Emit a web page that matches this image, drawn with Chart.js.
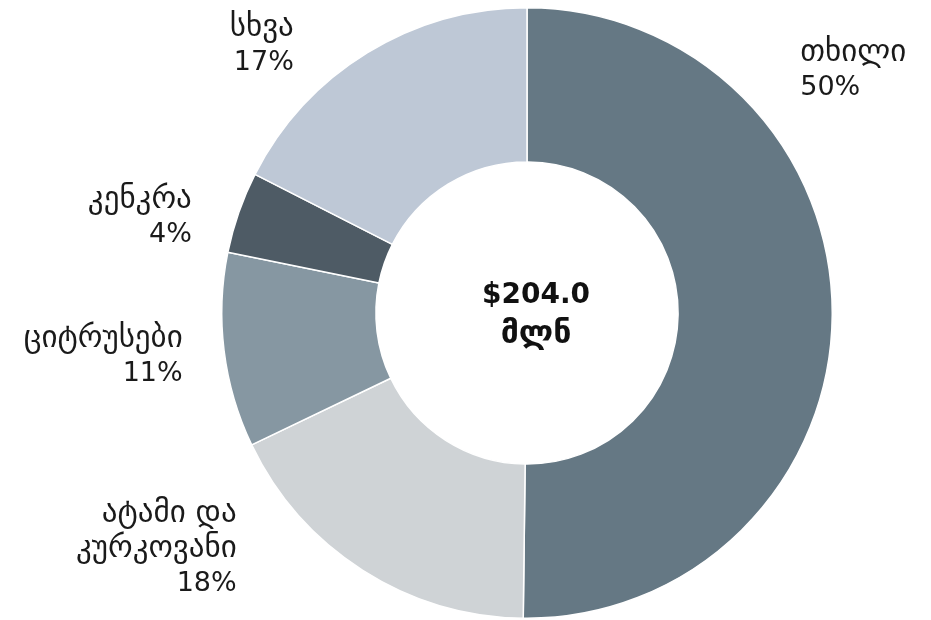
<!DOCTYPE html>
<html>
<head>
<meta charset="utf-8">
<script src="https://cdn.jsdelivr.net/npm/chart.js@4.4.1/dist/chart.umd.min.js"></script>
<style>
    html, body { margin: 0; padding: 0; background: #ffffff; }
    #wrap { width: 931px; height: 620px; position: relative; }
</style>
</head>
<body>
<div id="wrap"><canvas id="chart"></canvas></div>
<script>
// values in $ million
const categories = ["თხილი", "ატამი და კურკოვანი", "ციტრუსები", "კენკრა", "სხვა"];
const labelLines = [["თხილი"], ["ატამი და", "კურკოვანი"], ["ციტრუსები"], ["კენკრა"], ["სხვა"]];
const values = [102.4, 36.1, 21.0, 8.8, 35.7];
const percentLabels = ["50%", "18%", "11%", "4%", "17%"];
const totalLabel = ["$204.0", "მლნ"];

const sliceColors = ["#657884", "#cfd3d6", "#8697a2", "#4e5b65", "#bec8d6"];

// label anchor relative to the doughnut centre, in outer radius units
const labelLayout = [
    { dx: 0.895, dy: -0.795, align: "left" },
    { dx: -0.951, dy: 0.772, align: "right" },
    { dx: -1.128, dy: 0.143, align: "right" },
    { dx: -1.098, dy: -0.313, align: "right" },
    { dx: -0.764, dy: -0.877, align: "right" }
];

const FONT = "'DejaVu Sans', sans-serif";
const LINE_H = 35;

const outsideLabels = {
    id: "outsideLabels",
    afterDatasetsDraw(chart) {
        const ctx = chart.ctx;
        const arcs = chart.getDatasetMeta(0).data;
        if (!arcs.length) {
            return;
        }
        const cx = arcs[0].x;
        const cy = arcs[0].y;
        const r = arcs[0].outerRadius;

        ctx.save();
        ctx.fillStyle = "#1a1a1a";
        ctx.textBaseline = "middle";

        for (let i = 0; i < arcs.length; i++) {
            const lay = labelLayout[i];
            const lines = labelLines[i].concat([percentLabels[i]]);
            const x = cx + lay.dx * r;
            const yMid = cy + lay.dy * r;
            const y0 = yMid - (lines.length - 1) * LINE_H / 2;
            ctx.textAlign = lay.align;
            for (let j = 0; j < lines.length; j++) {
                const isPct = j === lines.length - 1;
                ctx.font = (isPct ? "27px " : "31px ") + FONT;
                ctx.fillText(lines[j], x, y0 + j * LINE_H);
            }
        }

        // total in the hole
        ctx.textAlign = "center";
        ctx.fillStyle = "#111111";
        ctx.font = "bold 28px " + FONT;
        ctx.fillText(totalLabel[0], cx + 9, cy - 17);
        ctx.font = "bold 32px " + FONT;
        ctx.fillText(totalLabel[1], cx + 9, cy + 22);
        ctx.restore();
    }
};

new Chart(document.getElementById("chart"), {
    type: "doughnut",
    data: {
        labels: categories,
        datasets: [
            {
                data: values,
                backgroundColor: sliceColors,
                borderColor: "#ffffff",
                borderWidth: 1.5
            }
        ]
    },
    options: {
        responsive: true,
        maintainAspectRatio: false,
        animation: false,
        cutout: "49.5%",
        layout: {
            padding: { top: 7, right: 0, bottom: 1, left: 123 }
        },
        plugins: {
            legend: { display: false },
            tooltip: { enabled: false }
        }
    },
    plugins: [outsideLabels]
});
</script>
</body>
</html>
